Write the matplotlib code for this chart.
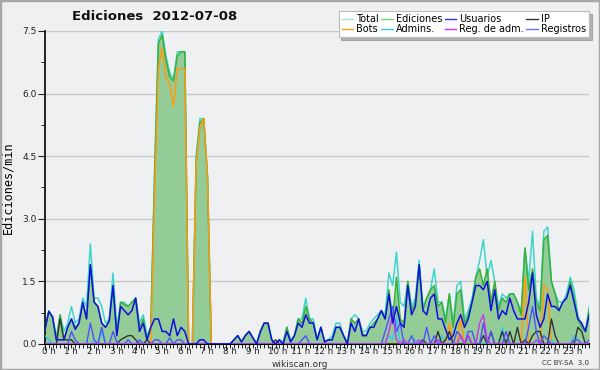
import numpy as np
import matplotlib
matplotlib.use('Agg')
from matplotlib import pyplot as plt
from matplotlib.patches import Rectangle
from matplotlib.ticker import MultipleLocator, FixedLocator
import matplotlib.transforms as mtransforms

# 10-minute samples, 0 h .. 24 h (145 points), edits per minute
total = [0.4, 0.8, 0.65, 0.15, 0.7, 0.3,
         0.5, 0.9, 0.5, 0.6, 1.1, 0.9,
         2.4, 1.1, 1.1, 0.9, 0.5, 0.6,
         1.7, 0.4, 1.0, 1.0, 0.9, 1.0,
         1.1, 0.5, 0.7, 0.2, 0.4, 4.2,
         7.3, 7.5, 6.9, 6.5, 6.35, 7.0,
         7.0, 7.0, 0.0, 0.0, 4.5, 5.4,
         5.4, 4.0, 0.0, 0.0, 0.0, 0.0,
         0.0, 0.0, 0.1, 0.2, 0.05, 0.2,
         0.3, 0.15, 0.0, 0.3, 0.5, 0.5,
         0.1, 0.0, 0.1, 0.05, 0.4, 0.1,
         0.2, 0.6, 0.6, 1.1, 0.6, 0.6,
         0.1, 0.4, 0.05, 0.1, 0.2, 0.5,
         0.5, 0.2, 0.05, 0.6, 0.7, 0.6,
         0.3, 0.3, 0.5, 0.6, 0.7, 0.8,
         0.7, 1.7, 1.4, 2.2, 1.0, 0.9,
         1.5, 0.9, 1.1, 2.0, 0.9, 1.1,
         1.3, 1.8, 1.0, 1.0, 0.6, 1.2,
         0.5, 1.4, 1.5, 0.6, 0.8, 1.1,
         1.6, 2.0, 2.5, 1.6, 2.0, 1.5,
         0.9, 1.2, 1.1, 1.2, 1.2, 1.0,
         0.8, 2.3, 1.5, 2.7, 1.1, 0.9,
         2.7, 2.8, 1.5, 1.2, 1.0, 1.0,
         1.2, 1.6, 1.3, 0.7, 0.4, 0.3,
         0.9]
ediciones = [0.35, 0.78, 0.65, 0.1, 0.7, 0.1,
             0.4, 0.6, 0.4, 0.5, 1.0, 0.6,
             1.9, 1.0, 0.9, 0.5, 0.4, 0.55,
             1.4, 0.2, 1.0, 0.95, 0.9, 1.0,
             1.1, 0.4, 0.6, 0.1, 0.4, 4.0,
             7.2, 7.4, 6.8, 6.4, 6.3, 6.9,
             7.0, 7.0, 0.0, 0.0, 4.4, 5.3,
             5.4, 4.0, 0.0, 0.0, 0.0, 0.0,
             0.0, 0.0, 0.1, 0.2, 0.05, 0.2,
             0.3, 0.15, 0.0, 0.3, 0.5, 0.5,
             0.1, 0.0, 0.1, 0.0, 0.4, 0.05,
             0.2, 0.6, 0.5, 0.9, 0.6, 0.5,
             0.1, 0.4, 0.05, 0.1, 0.1, 0.4,
             0.4, 0.2, 0.0, 0.6, 0.5, 0.6,
             0.25, 0.2, 0.4, 0.5, 0.6, 0.8,
             0.6, 1.3, 0.6, 1.6, 0.6, 0.5,
             1.5, 0.8, 1.0, 1.9, 0.8, 1.1,
             1.3, 1.4, 0.9, 1.0, 0.5, 1.2,
             0.4, 1.2, 1.3, 0.5, 0.7, 1.0,
             1.6, 1.8, 1.4, 1.8, 1.0, 1.5,
             0.8, 1.1, 1.0, 1.2, 1.2, 1.0,
             0.7, 2.3, 1.3, 1.8, 1.0, 0.8,
             2.5, 2.6, 1.5, 1.2, 0.8, 1.0,
             1.1, 1.5, 1.1, 0.6, 0.4, 0.3,
             0.8]
usuarios = [0.35, 0.78, 0.65, 0.1, 0.1, 0.1,
            0.4, 0.6, 0.35, 0.5, 1.0, 0.6,
            1.9, 1.0, 0.9, 0.5, 0.4, 0.55,
            1.4, 0.2, 0.9, 0.8, 0.7, 0.8,
            1.1, 0.3, 0.5, 0.1, 0.4, 0.6,
            0.6, 0.3, 0.3, 0.2, 0.6, 0.2,
            0.4, 0.3, 0.0, 0.0, 0.0, 0.1,
            0.1, 0.0, 0.0, 0.0, 0.0, 0.0,
            0.0, 0.0, 0.1, 0.2, 0.05, 0.2,
            0.3, 0.15, 0.0, 0.3, 0.5, 0.5,
            0.1, 0.0, 0.1, 0.0, 0.3, 0.05,
            0.2, 0.5, 0.4, 0.7, 0.5, 0.5,
            0.1, 0.4, 0.05, 0.1, 0.1, 0.4,
            0.4, 0.2, 0.0, 0.5, 0.3, 0.6,
            0.2, 0.2, 0.4, 0.4, 0.6, 0.8,
            0.6, 1.2, 0.5, 0.9, 0.5, 0.4,
            1.4, 0.7, 0.9, 1.9, 0.8, 0.7,
            1.1, 1.2, 0.6, 0.6, 0.35, 0.1,
            0.2, 0.5, 0.7, 0.4, 0.6, 1.0,
            1.4, 1.4, 1.3, 1.5, 0.8, 1.3,
            0.6, 0.8, 0.7, 1.1, 0.8, 0.6,
            0.6, 0.6, 1.0, 1.7, 0.7, 0.4,
            0.6, 1.2, 0.9, 0.9, 0.8, 1.0,
            1.1, 1.4, 1.0, 0.6, 0.5, 0.3,
            0.7]
bots = [0.0, 0.0, 0.0, 0.0, 0.0, 0.0,
        0.0, 0.0, 0.0, 0.0, 0.0, 0.0,
        0.0, 0.0, 0.0, 0.0, 0.0, 0.0,
        0.0, 0.0, 0.0, 0.0, 0.0, 0.0,
        0.0, 0.0, 0.0, 0.0, 0.0, 3.6,
        6.6, 7.1, 6.4, 6.2, 5.7, 6.6,
        6.6, 6.6, 0.0, 0.0, 4.3, 5.2,
        5.4, 4.0, 0.0, 0.0, 0.0, 0.0,
        0.0, 0.0, 0.0, 0.0, 0.0, 0.0,
        0.0, 0.0, 0.0, 0.0, 0.0, 0.0,
        0.0, 0.0, 0.0, 0.0, 0.0, 0.0,
        0.0, 0.0, 0.0, 0.0, 0.0, 0.0,
        0.0, 0.0, 0.0, 0.0, 0.0, 0.0,
        0.0, 0.0, 0.0, 0.0, 0.0, 0.0,
        0.0, 0.0, 0.0, 0.0, 0.0, 0.0,
        0.0, 0.0, 0.0, 0.0, 0.0, 0.0,
        0.0, 0.0, 0.0, 0.0, 0.0, 0.0,
        0.0, 0.0, 0.0, 0.0, 0.0, 0.5,
        0.0, 0.0, 0.6, 0.0, 0.0, 0.0,
        0.0, 0.0, 0.0, 0.0, 0.0, 0.0,
        0.0, 0.0, 0.0, 0.0, 0.0, 0.0,
        0.0, 1.6, 0.0, 0.0, 0.0, 0.0,
        1.4, 1.3, 0.0, 0.0, 0.0, 0.0,
        0.0, 0.0, 0.0, 0.0, 0.0, 0.0,
        0.0]
ip = [0.0, 0.0, 0.0, 0.0, 0.6, 0.1,
      0.1, 0.1, 0.0, 0.0, 0.0, 0.0,
      0.0, 0.0, 0.0, 0.0, 0.0, 0.0,
      0.0, 0.0, 0.1, 0.15, 0.2, 0.2,
      0.1, 0.0, 0.0, 0.1, 0.0, 0.0,
      0.0, 0.0, 0.0, 0.0, 0.0, 0.0,
      0.0, 0.0, 0.0, 0.0, 0.0, 0.0,
      0.0, 0.0, 0.0, 0.0, 0.0, 0.0,
      0.0, 0.0, 0.0, 0.0, 0.0, 0.0,
      0.0, 0.0, 0.0, 0.0, 0.0, 0.0,
      0.0, 0.1, 0.0, 0.0, 0.0, 0.0,
      0.0, 0.0, 0.0, 0.0, 0.0, 0.0,
      0.0, 0.0, 0.0, 0.0, 0.0, 0.0,
      0.0, 0.0, 0.0, 0.0, 0.0, 0.0,
      0.0, 0.0, 0.0, 0.0, 0.0, 0.0,
      0.0, 0.0, 0.0, 0.0, 0.0, 0.0,
      0.0, 0.0, 0.0, 0.0, 0.1, 0.0,
      0.0, 0.0, 0.3, 0.0, 0.1, 0.3,
      0.0, 0.0, 0.0, 0.0, 0.2, 0.0,
      0.0, 0.0, 0.2, 0.0, 0.3, 0.0,
      0.0, 0.3, 0.0, 0.3, 0.0, 0.4,
      0.0, 0.1, 0.0, 0.2, 0.3, 0.3,
      0.0, 0.0, 0.6, 0.2, 0.0, 0.0,
      0.0, 0.0, 0.0, 0.4, 0.3, 0.0,
      0.0]
registros = [0.0, 0.0, 0.0, 0.0, 0.0, 0.0,
             0.0, 0.3, 0.1, 0.0, 0.0, 0.0,
             0.5, 0.1, 0.0, 0.4, 0.0, 0.0,
             0.3, 0.05, 0.0, 0.0, 0.1, 0.0,
             0.0, 0.1, 0.0, 0.0, 0.0, 0.1,
             0.1, 0.0, 0.0, 0.15, 0.0, 0.1,
             0.1, 0.0, 0.0, 0.0, 0.0, 0.0,
             0.0, 0.0, 0.0, 0.0, 0.0, 0.0,
             0.0, 0.0, 0.0, 0.0, 0.0, 0.0,
             0.0, 0.0, 0.0, 0.0, 0.0, 0.0,
             0.0, 0.0, 0.0, 0.0, 0.0, 0.0,
             0.0, 0.0, 0.1, 0.2, 0.0, 0.0,
             0.0, 0.0, 0.0, 0.0, 0.0, 0.0,
             0.0, 0.0, 0.0, 0.0, 0.0, 0.0,
             0.0, 0.0, 0.0, 0.0, 0.0, 0.0,
             0.3, 0.6, 0.9, 0.3, 0.5, 0.0,
             0.0, 0.2, 0.0, 0.0, 0.0, 0.4,
             0.0, 0.2, 0.0, 0.0, 0.0, 0.0,
             0.0, 0.3, 0.2, 0.0, 0.3, 0.3,
             0.0, 0.0, 0.5, 0.0, 0.3, 0.0,
             0.0, 0.0, 0.3, 0.0, 0.0, 0.0,
             0.0, 0.0, 0.4, 0.9, 0.3, 0.0,
             0.2, 0.1, 0.0, 0.0, 0.0, 0.0,
             0.0, 0.0, 0.1, 0.1, 0.0, 0.0,
             0.1]
reg_adm = [0.0] * 91 + [0.3, 0.7, 0.1, 0.0, 0.1,
                        0.0, 0.0, 0.0, 0.1, 0.0, 0.0,
                        0.0, 0.0, 0.1, 0.0, 0.0, 0.0,
                        0.0, 0.0, 0.2, 0.0, 0.2, 0.0,
                        0.0, 0.5, 0.7, 0.1, 0.0, 0.0,
                        0.0, 0.0, 0.0, 0.0, 0.0, 0.0,
                        0.0, 0.0, 0.0, 0.0, 0.1, 0.0,
                        0.0, 0.0, 0.0, 0.0, 0.0, 0.0,
                        0.0, 0.0, 0.0, 0.0, 0.0, 0.0,
                        0.0]
admins = [0.2, 0.1, 0.0, 0.0, 0.0, 0.0,
          0.0, 0.0, 0.0, 0.0, 0.0, 0.0,
          0.0, 0.1, 0.0, 0.3, 0.0, 0.0,
          0.0, 0.0, 0.0, 0.0, 0.0, 0.0,
          0.0, 0.0, 0.0, 0.0, 0.0, 0.0,
          0.0, 0.0, 0.0, 0.0, 0.0, 0.0,
          0.0, 0.0, 0.0, 0.0, 0.0, 0.0,
          0.0, 0.0, 0.0, 0.0, 0.0, 0.0,
          0.0, 0.0, 0.0, 0.0, 0.0, 0.0,
          0.0, 0.0, 0.0, 0.0, 0.0, 0.0,
          0.0, 0.0, 0.0, 0.0, 0.0, 0.0,
          0.0, 0.0, 0.0, 0.0, 0.0, 0.0,
          0.0, 0.0, 0.0, 0.0, 0.0, 0.0,
          0.0, 0.0, 0.0, 0.0, 0.0, 0.0,
          0.0, 0.0, 0.0, 0.0, 0.0, 0.0,
          0.0, 0.2, 0.1, 0.6, 0.0, 0.0,
          0.0, 0.0, 0.1, 0.0, 0.0, 0.0,
          0.0, 0.0, 0.0, 0.2, 0.0, 0.0,
          0.0, 0.0, 0.0, 0.0, 0.1, 0.0,
          0.0, 0.0, 0.0, 0.0, 0.0, 0.0,
          0.0, 0.4, 0.0, 0.0, 0.0, 0.0,
          0.0, 0.0, 0.0, 0.0, 0.0, 0.0,
          0.0, 0.0, 0.1, 0.0, 0.0, 0.0,
          0.0, 0.0, 0.2, 0.1, 0.0, 0.0,
          0.0]
hour_labels = ['%d h' % h for h in range(24)]

hours = np.arange(len(total)) / 6.0

bg = '#eff0f1'
fig = plt.figure(figsize=(6, 3.7), dpi=100, facecolor=bg)
fig.patches.append(Rectangle((0, 0), 1, 1, transform=fig.transFigure, fill=False,
                             edgecolor='#a8a8a8', lw=2.5))
ax = fig.add_axes([0.075, 0.0703, 0.907, 0.846], facecolor=bg)

ax.fill_between(hours, ediciones, color='#94cc98', lw=0, zorder=1)
ax.plot(hours, total, color='#3fd4cc', lw=1.1, zorder=2)
ax.plot(hours, ediciones, color='#38b038', lw=1.1, zorder=3)
ax.plot(hours, bots, color='#ff9a10', lw=1.1, zorder=4)
ax.plot(hours, admins, color='#30c8e8', lw=1.0, zorder=5)
ax.plot(hours, ip, color='#333333', lw=1.0, zorder=5)
ax.plot(hours, registros, color='#5050ff', lw=1.0, zorder=5)
ax.plot(hours, reg_adm, color='#cc33ee', lw=1.0, zorder=5)
ax.plot(hours, usuarios, color='#1010dd', lw=1.1, zorder=6)

ax.set_xlim(0, 24)
ax.set_ylim(0, 7.5)
ax.yaxis.set_major_locator(MultipleLocator(1.5))
ax.yaxis.set_minor_locator(MultipleLocator(0.75))
ax.yaxis.set_major_formatter(matplotlib.ticker.FormatStrFormatter('%.1f'))
ax.grid(axis='y', which='major', color='#c8c8c8', lw=1)
ax.set_axisbelow(True)
ax.xaxis.set_major_locator(FixedLocator(range(24)))
ax.set_xticklabels(hour_labels)
ax.xaxis.set_minor_locator(MultipleLocator(1 / 6))
for s in ('top', 'right'):
    ax.spines[s].set_visible(False)
ax.spines['left'].set_linewidth(1.2)
ax.spines['bottom'].set_linewidth(1.5)
ax.tick_params(axis='y', which='major', length=5, labelsize=6.5, pad=1, colors='#222222')
ax.tick_params(axis='y', which='minor', length=3)
ax.tick_params(axis='x', which='major', length=4, labelsize=6.3, pad=-1.5, colors='#222222')
ax.tick_params(axis='x', which='minor', length=3)
offset = mtransforms.ScaledTranslation(-2.5 / 72, 0, fig.dpi_scale_trans)
for lab in ax.get_xticklabels():
    lab.set_horizontalalignment('left')
    lab.set_transform(lab.get_transform() + offset)

ax.set_ylabel('Ediciones/min', family='DejaVu Sans Mono', fontsize=8.5, labelpad=6)

fig.text(0.258, 0.955, 'Ediciones  2012-07-08', ha='center', va='center',
         fontsize=9.5, fontweight='bold', color='#111111')
fig.text(0.5, 0.016, 'wikiscan.org', ha='center', va='center', fontsize=6.5, color='#333333')
fig.text(0.982, 0.02, 'CC BY-SA  3.0', ha='right', va='center', fontsize=5, color='#333333')

names = ['Total', 'Bots', 'Ediciones', 'Admins.', 'Usuarios', 'Reg. de adm.', 'IP', 'Registros']
colors = ['#a8e4e4', '#ff9a10', '#7ccf7c', '#40c8e0', '#3030dd', '#cc33ee', '#333333', '#7070ff']
handles = [plt.Line2D([], [], color=c, lw=1) for c in colors]
leg = fig.legend(handles, names, ncol=4, loc='upper right', bbox_to_anchor=(0.985, 0.975),
                 fontsize=7, frameon=True, fancybox=False, shadow={'color': '#777777'},
                 handlelength=1.2, handletextpad=0.3, columnspacing=0.25, labelspacing=0.0,
                 borderpad=0.3, borderaxespad=0.2)
leg.get_frame().set_edgecolor('#bbbbbb')
leg.get_frame().set_linewidth(0.8)

fig.savefig('out.png', dpi=100, facecolor=bg)
